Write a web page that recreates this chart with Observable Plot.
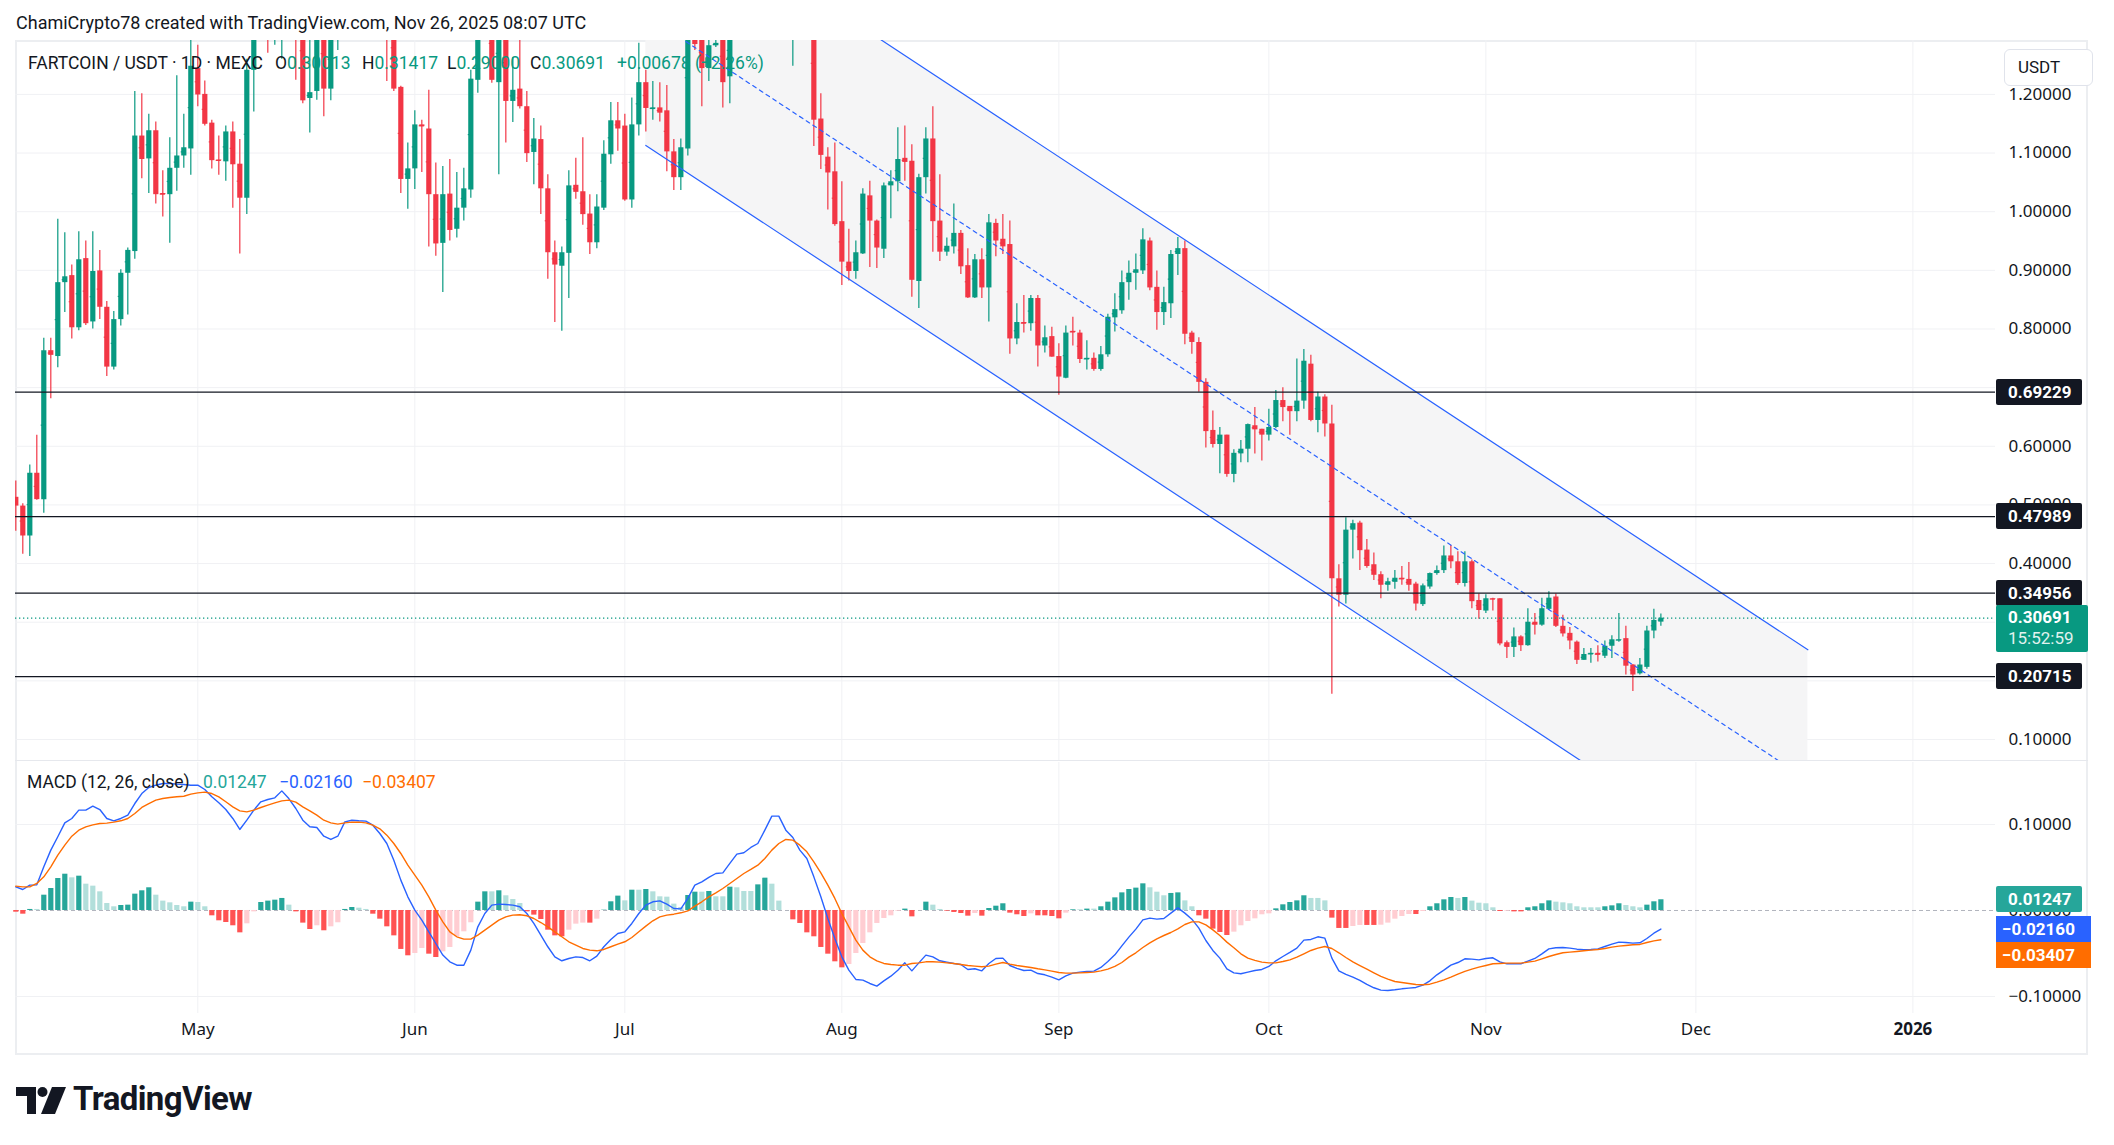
<!DOCTYPE html>
<html>
<head>
<meta charset="utf-8">
<script src="https://cdn.jsdelivr.net/npm/d3@7"></script>
<script src="https://cdn.jsdelivr.net/npm/@observablehq/plot@0.6"></script>
<style>
  body { margin: 0; background: #ffffff; }
  #root { position: relative; width: 2114px; height: 1145px; overflow: hidden; background: #fff;
          font-family: Roboto, "Liberation Sans", "Noto Sans", sans-serif; color: #131722; }
</style>
</head>
<body>
<div id="root"></div>
<script>
// ---------------- DATA ----------------
// Daily candles, FARTCOIN/USDT (MEXC), 2025-04-05 .. 2025-11-26
const firstDay = "2025-04-05";
const open = [
0.513,0.498,0.447,0.554,0.509,0.763,0.753,0.879,0.891,0.802,
0.920,0.812,0.899,0.837,0.735,0.816,0.895,0.932,1.129,1.090,
1.138,1.031,1.029,1.074,1.095,1.107,1.244,1.200,1.151,1.088,
1.085,1.136,1.081,1.023,1.241,1.350,1.420,1.380,1.440,1.460,
1.420,1.360,1.193,1.205,1.330,1.209,1.310,1.380,1.500,1.450,
1.420,1.400,1.380,1.450,1.350,1.212,1.055,1.073,1.148,1.141,
1.029,0.946,1.030,0.970,1.006,1.037,1.224,1.300,1.350,1.220,
1.320,1.188,1.209,1.179,1.101,1.123,1.039,0.930,0.907,0.929,
1.045,1.034,0.996,0.947,1.006,1.097,1.155,1.146,1.020,1.148,
1.220,1.175,1.177,1.172,1.102,1.058,1.107,1.350,1.300,1.244,
1.283,1.310,1.230,1.320,1.420,1.480,1.450,1.530,1.580,1.520,
1.400,1.330,1.380,1.400,1.350,1.158,1.093,1.068,0.983,0.914,
0.898,0.928,1.027,0.984,0.936,1.044,1.051,1.091,1.086,0.881,
1.058,1.124,0.984,0.931,0.940,0.963,0.908,0.853,0.918,0.870,
0.980,0.953,0.944,0.783,0.811,0.809,0.852,0.771,0.787,0.753,
0.716,0.796,0.793,0.748,0.750,0.731,0.756,0.819,0.831,0.879,
0.895,0.899,0.950,0.871,0.828,0.843,0.927,0.937,0.793,0.777,
0.709,0.627,0.603,0.619,0.552,0.587,0.595,0.635,0.629,0.619,
0.632,0.678,0.668,0.659,0.677,0.740,0.644,0.684,0.638,0.374,
0.346,0.457,0.469,0.423,0.398,0.381,0.363,0.368,0.375,0.373,
0.365,0.330,0.360,0.383,0.388,0.413,0.403,0.366,0.403,0.337,
0.319,0.340,0.340,0.265,0.257,0.275,0.260,0.300,0.295,0.322,
0.343,0.293,0.281,0.266,0.235,0.245,0.247,0.242,0.259,0.269,
0.272,0.227,0.212,0.223,0.285,0.30013];
const high = [
0.541,0.502,0.568,0.619,0.784,0.784,0.987,0.964,0.909,0.966,
0.950,0.966,0.934,0.847,0.830,0.901,0.938,1.205,1.201,1.166,
1.153,1.070,1.126,1.232,1.166,1.300,1.284,1.223,1.156,1.129,
1.146,1.153,1.123,1.260,1.400,1.480,1.500,1.520,1.500,1.520,
1.450,1.380,1.300,1.350,1.360,1.340,1.430,1.560,1.620,1.520,
1.480,1.450,1.500,1.500,1.380,1.214,1.117,1.172,1.156,1.207,
1.083,1.077,1.089,1.067,1.074,1.241,1.330,1.380,1.370,1.350,
1.330,1.263,1.300,1.205,1.159,1.146,1.063,0.950,0.940,1.070,
1.091,1.126,1.029,1.029,1.121,1.186,1.186,1.166,1.194,1.287,
1.241,1.222,1.220,1.215,1.123,1.124,1.400,1.450,1.310,1.300,
1.300,1.330,1.360,1.450,1.520,1.550,1.560,1.620,1.640,1.560,
1.450,1.420,1.450,1.440,1.400,1.201,1.109,1.117,1.051,0.970,
0.950,1.039,1.052,0.986,1.049,1.070,1.143,1.146,1.114,1.064,
1.143,1.179,1.063,0.955,1.013,0.968,0.937,0.927,0.937,0.995,
0.987,0.995,0.984,0.843,0.857,0.857,0.857,0.805,0.803,0.775,
0.805,0.820,0.798,0.780,0.759,0.770,0.825,0.860,0.899,0.916,
0.928,0.971,0.955,0.899,0.871,0.934,0.956,0.950,0.796,0.785,
0.715,0.660,0.632,0.619,0.594,0.610,0.638,0.666,0.629,0.663,
0.695,0.700,0.668,0.749,0.765,0.755,0.692,0.688,0.670,0.398,
0.478,0.474,0.472,0.441,0.418,0.386,0.375,0.388,0.395,0.402,
0.368,0.365,0.384,0.396,0.430,0.431,0.420,0.420,0.406,0.348,
0.347,0.341,0.340,0.268,0.290,0.277,0.323,0.315,0.341,0.352,
0.348,0.312,0.291,0.268,0.255,0.255,0.260,0.268,0.277,0.315,
0.293,0.228,0.238,0.293,0.322,0.31417];
const low = [
0.455,0.416,0.412,0.508,0.486,0.681,0.734,0.828,0.783,0.797,
0.806,0.800,0.816,0.719,0.730,0.805,0.824,0.919,1.056,1.031,
1.013,0.991,0.946,1.035,1.074,1.062,1.179,1.146,1.073,1.062,
1.052,1.006,0.928,0.995,1.170,1.310,1.270,1.284,1.260,1.330,
1.224,1.184,1.134,1.190,1.162,1.189,1.275,1.350,1.400,1.380,
1.330,1.320,1.330,1.222,1.205,1.031,1.004,1.038,1.067,0.940,
0.924,0.862,0.950,0.955,0.984,1.023,1.202,1.300,1.219,1.063,
1.117,1.152,1.175,1.084,1.046,0.995,0.885,0.811,0.796,0.852,
1.021,0.977,0.927,0.937,1.002,1.081,1.103,1.018,1.006,1.129,
1.136,1.156,1.153,1.068,1.036,1.036,1.095,1.275,1.179,1.222,
1.280,1.177,1.184,1.300,1.380,1.400,1.420,1.450,1.480,1.350,
1.300,1.248,1.330,1.320,1.111,1.072,1.003,0.975,0.874,0.882,
0.885,0.927,0.905,0.903,0.920,0.988,1.034,1.052,0.854,0.835,
1.030,0.931,0.915,0.924,0.928,0.893,0.852,0.852,0.852,0.812,
0.923,0.927,0.757,0.773,0.793,0.796,0.735,0.759,0.752,0.687,
0.715,0.771,0.741,0.730,0.728,0.728,0.752,0.795,0.825,0.849,
0.866,0.893,0.865,0.798,0.806,0.818,0.891,0.773,0.757,0.692,
0.597,0.597,0.553,0.547,0.538,0.572,0.572,0.587,0.575,0.609,
0.630,0.642,0.619,0.642,0.663,0.642,0.623,0.616,0.177,0.326,
0.331,0.408,0.388,0.392,0.371,0.340,0.353,0.356,0.363,0.353,
0.319,0.327,0.356,0.380,0.383,0.391,0.363,0.360,0.323,0.305,
0.315,0.319,0.260,0.238,0.240,0.250,0.259,0.278,0.293,0.320,
0.291,0.275,0.253,0.228,0.235,0.230,0.232,0.238,0.238,0.266,
0.210,0.182,0.210,0.220,0.272,0.293];
const close = [
0.498,0.447,0.554,0.509,0.763,0.755,0.879,0.889,0.802,0.918,
0.809,0.898,0.837,0.735,0.816,0.895,0.934,1.129,1.089,1.138,
1.029,1.029,1.074,1.095,1.109,1.248,1.199,1.149,1.087,1.087,
1.136,1.080,1.023,1.241,1.350,1.420,1.380,1.440,1.460,1.420,
1.360,1.189,1.203,1.320,1.209,1.310,1.380,1.500,1.450,1.420,
1.400,1.380,1.450,1.350,1.209,1.055,1.073,1.148,1.145,1.029,
0.945,1.029,0.968,1.006,1.039,1.226,1.300,1.340,1.224,1.320,
1.188,1.207,1.179,1.099,1.124,1.039,0.930,0.909,0.930,1.044,
1.033,0.995,0.947,1.008,1.098,1.155,1.141,1.020,1.148,1.220,
1.176,1.177,1.168,1.102,1.058,1.109,1.350,1.285,1.244,1.283,
1.287,1.220,1.320,1.420,1.480,1.450,1.530,1.580,1.520,1.400,
1.330,1.380,1.400,1.350,1.156,1.096,1.066,0.978,0.914,0.898,
0.930,1.030,0.984,0.938,1.044,1.051,1.089,1.084,0.883,1.058,
1.124,0.983,0.931,0.941,0.963,0.906,0.853,0.918,0.870,0.981,
0.950,0.940,0.783,0.811,0.809,0.852,0.771,0.785,0.752,0.718,
0.793,0.794,0.748,0.750,0.731,0.756,0.820,0.833,0.879,0.895,
0.901,0.952,0.870,0.828,0.845,0.927,0.937,0.791,0.777,0.709,
0.625,0.603,0.619,0.552,0.588,0.595,0.637,0.628,0.619,0.632,
0.678,0.666,0.659,0.677,0.745,0.644,0.684,0.638,0.374,0.346,
0.457,0.468,0.422,0.395,0.380,0.363,0.369,0.375,0.373,0.363,
0.331,0.362,0.383,0.388,0.413,0.403,0.366,0.403,0.335,0.320,
0.340,0.339,0.263,0.257,0.275,0.260,0.300,0.295,0.323,0.341,
0.293,0.280,0.268,0.235,0.245,0.247,0.244,0.259,0.270,0.270,
0.225,0.210,0.227,0.285,0.303,0.30691];

// MACD (12, 26, close): MACD line, signal line, histogram
const macd = [
0.0275,0.0244,0.0295,0.0298,0.0508,0.0702,0.0857,0.1019,0.1070,0.1167,
0.1167,0.1213,0.1174,0.1070,0.1043,0.1070,0.1109,0.1244,0.1360,0.1430,
0.1457,0.1477,0.1477,0.1469,0.1465,0.1457,0.1457,0.1407,0.1322,0.1252,
0.1174,0.1070,0.0942,0.1050,0.1167,0.1264,0.1291,0.1310,0.1391,0.1302,
0.1186,0.1050,0.0973,0.0965,0.0864,0.0826,0.0864,0.1031,0.1050,0.1043,
0.1039,0.0992,0.0895,0.0779,0.0585,0.0353,0.0159,0.0004,-0.0112,-0.0248,
-0.0384,-0.0519,-0.0597,-0.0636,-0.0636,-0.0461,-0.0190,-0.0035,0.0062,0.0074,
0.0070,0.0062,0.0043,-0.0035,-0.0151,-0.0287,-0.0422,-0.0539,-0.0585,-0.0558,
-0.0539,-0.0547,-0.0585,-0.0531,-0.0422,-0.0337,-0.0267,-0.0248,-0.0151,-0.0035,
0.0062,0.0101,0.0112,0.0074,0.0023,0.0019,0.0140,0.0295,0.0333,0.0384,
0.0430,0.0438,0.0547,0.0655,0.0671,0.0733,0.0779,0.0934,0.1097,0.1097,
0.0934,0.0849,0.0702,0.0605,0.0391,0.0159,-0.0093,-0.0326,-0.0539,-0.0694,
-0.0802,-0.0810,-0.0849,-0.0880,-0.0818,-0.0764,-0.0694,-0.0609,-0.0702,-0.0609,
-0.0519,-0.0539,-0.0585,-0.0601,-0.0616,-0.0628,-0.0686,-0.0678,-0.0702,-0.0616,
-0.0558,-0.0554,-0.0640,-0.0674,-0.0698,-0.0694,-0.0733,-0.0748,-0.0775,-0.0806,
-0.0760,-0.0729,-0.0717,-0.0709,-0.0705,-0.0663,-0.0593,-0.0516,-0.0411,-0.0310,
-0.0217,-0.0109,-0.0089,-0.0101,-0.0093,-0.0031,0.0031,-0.0031,-0.0101,-0.0205,
-0.0349,-0.0465,-0.0554,-0.0678,-0.0725,-0.0736,-0.0717,-0.0698,-0.0686,-0.0651,
-0.0585,-0.0535,-0.0488,-0.0438,-0.0345,-0.0337,-0.0306,-0.0322,-0.0554,-0.0702,
-0.0744,-0.0775,-0.0814,-0.0860,-0.0899,-0.0926,-0.0930,-0.0922,-0.0911,-0.0903,
-0.0895,-0.0868,-0.0818,-0.0748,-0.0694,-0.0636,-0.0605,-0.0562,-0.0566,-0.0574,
-0.0558,-0.0550,-0.0597,-0.0620,-0.0620,-0.0620,-0.0589,-0.0558,-0.0504,-0.0446,
-0.0434,-0.0430,-0.0438,-0.0450,-0.0457,-0.0453,-0.0446,-0.0419,-0.0391,-0.0368,
-0.0372,-0.0380,-0.0376,-0.0326,-0.0264,-0.02160];
const signal = [
0.0283,0.0275,0.0275,0.0314,0.0391,0.0508,0.0643,0.0760,0.0864,0.0934,
0.0973,0.0996,0.1012,0.1016,0.1027,0.1043,0.1070,0.1128,0.1198,0.1244,
0.1283,0.1302,0.1314,0.1322,0.1329,0.1353,0.1368,0.1376,0.1360,0.1322,
0.1264,0.1205,0.1159,0.1147,0.1167,0.1198,0.1225,0.1252,0.1275,0.1283,
0.1260,0.1205,0.1159,0.1109,0.1050,0.1019,0.1004,0.1019,0.1027,0.1027,
0.1019,0.0992,0.0950,0.0876,0.0779,0.0663,0.0527,0.0411,0.0295,0.0159,
0.0004,-0.0132,-0.0248,-0.0306,-0.0333,-0.0333,-0.0287,-0.0229,-0.0171,-0.0112,
-0.0074,-0.0054,-0.0050,-0.0062,-0.0093,-0.0140,-0.0190,-0.0248,-0.0306,-0.0364,
-0.0403,-0.0442,-0.0461,-0.0469,-0.0453,-0.0422,-0.0391,-0.0364,-0.0314,-0.0248,
-0.0182,-0.0120,-0.0074,-0.0054,-0.0043,-0.0027,-0.0004,0.0050,0.0101,0.0159,
0.0205,0.0256,0.0314,0.0372,0.0430,0.0477,0.0527,0.0605,0.0702,0.0779,
0.0826,0.0818,0.0760,0.0682,0.0566,0.0438,0.0295,0.0140,-0.0035,-0.0190,
-0.0345,-0.0461,-0.0539,-0.0585,-0.0616,-0.0628,-0.0636,-0.0636,-0.0616,-0.0609,
-0.0597,-0.0597,-0.0601,-0.0609,-0.0616,-0.0628,-0.0640,-0.0647,-0.0655,-0.0647,
-0.0624,-0.0605,-0.0624,-0.0640,-0.0651,-0.0663,-0.0678,-0.0690,-0.0705,-0.0721,
-0.0729,-0.0729,-0.0725,-0.0721,-0.0717,-0.0702,-0.0682,-0.0651,-0.0605,-0.0543,
-0.0492,-0.0430,-0.0376,-0.0329,-0.0291,-0.0256,-0.0213,-0.0163,-0.0132,-0.0132,
-0.0167,-0.0225,-0.0291,-0.0368,-0.0434,-0.0504,-0.0554,-0.0581,-0.0601,-0.0609,
-0.0609,-0.0593,-0.0574,-0.0543,-0.0504,-0.0465,-0.0438,-0.0419,-0.0442,-0.0492,
-0.0547,-0.0597,-0.0640,-0.0682,-0.0725,-0.0767,-0.0798,-0.0826,-0.0837,-0.0849,
-0.0860,-0.0864,-0.0857,-0.0833,-0.0806,-0.0775,-0.0740,-0.0709,-0.0682,-0.0659,
-0.0640,-0.0620,-0.0616,-0.0612,-0.0612,-0.0612,-0.0601,-0.0589,-0.0562,-0.0535,
-0.0512,-0.0492,-0.0484,-0.0477,-0.0469,-0.0461,-0.0453,-0.0442,-0.0426,-0.0415,
-0.0407,-0.0399,-0.0395,-0.0372,-0.0353,-0.03407];
const hist = [
-0.0020,-0.0043,0.0012,0.0012,0.0178,0.0256,0.0372,0.0422,0.0380,0.0399,
0.0306,0.0283,0.0217,0.0081,0.0043,0.0058,0.0062,0.0190,0.0229,0.0264,
0.0178,0.0109,0.0089,0.0058,0.0043,0.0097,0.0093,0.0043,-0.0062,-0.0120,
-0.0140,-0.0178,-0.0260,-0.0155,-0.0016,0.0093,0.0109,0.0120,0.0140,0.0062,
-0.0016,-0.0147,-0.0221,-0.0178,-0.0236,-0.0190,-0.0143,0.0012,0.0035,0.0027,
0.0012,-0.0043,-0.0101,-0.0190,-0.0295,-0.0453,-0.0527,-0.0500,-0.0442,-0.0508,
-0.0547,-0.0481,-0.0430,-0.0306,-0.0248,-0.0143,0.0097,0.0217,0.0217,0.0229,
0.0171,0.0128,0.0081,-0.0016,-0.0054,-0.0105,-0.0229,-0.0295,-0.0306,-0.0229,
-0.0159,-0.0147,-0.0147,-0.0101,0.0004,0.0101,0.0167,0.0112,0.0236,0.0236,
0.0244,0.0217,0.0159,0.0155,0.0074,0.0035,0.0174,0.0213,0.0213,0.0221,
0.0159,0.0159,0.0271,0.0264,0.0221,0.0221,0.0298,0.0376,0.0306,0.0109,
0.0000,-0.0109,-0.0151,-0.0260,-0.0306,-0.0430,-0.0508,-0.0597,-0.0667,-0.0628,
-0.0500,-0.0384,-0.0260,-0.0151,-0.0093,-0.0062,-0.0008,0.0016,-0.0074,0.0000,
0.0097,0.0062,0.0012,-0.0008,-0.0023,-0.0035,-0.0066,-0.0035,-0.0066,0.0023,
0.0050,0.0078,-0.0031,-0.0050,-0.0070,-0.0039,-0.0062,-0.0062,-0.0070,-0.0097,
-0.0031,0.0008,0.0008,0.0016,0.0016,0.0043,0.0097,0.0147,0.0205,0.0244,
0.0260,0.0310,0.0264,0.0213,0.0171,0.0198,0.0205,0.0112,0.0043,-0.0062,
-0.0101,-0.0217,-0.0256,-0.0291,-0.0252,-0.0178,-0.0128,-0.0097,-0.0050,-0.0039,
0.0019,0.0066,0.0093,0.0112,0.0171,0.0140,0.0140,0.0112,-0.0089,-0.0209,
-0.0209,-0.0186,-0.0174,-0.0174,-0.0174,-0.0171,-0.0147,-0.0101,-0.0070,-0.0047,
-0.0047,-0.0012,0.0043,0.0078,0.0124,0.0151,0.0140,0.0151,0.0109,0.0085,
0.0078,0.0031,-0.0012,-0.0008,-0.0016,-0.0016,0.0031,0.0043,0.0078,0.0112,
0.0097,0.0089,0.0078,0.0043,0.0031,0.0031,0.0031,0.0043,0.0054,0.0078,
0.0058,0.0043,0.0031,0.0062,0.0101,0.01247];

// Horizontal levels drawn on the chart, price ticks, MACD ticks, month ticks
const levels = [0.69229, 0.47989, 0.34956, 0.20715];
const priceTicks = [0.1, 0.2, 0.3, 0.4, 0.5, 0.6, 0.7, 0.8, 0.9, 1.0, 1.1, 1.2];
const priceTickLabels = [0.1, 0.4, 0.5, 0.6, 0.8, 0.9, 1.0, 1.1, 1.2];   // labels not hidden by value boxes
const macdTicks = [0.1, 0, -0.1];
const monthTickDates = ["2025-05-01","2025-06-01","2025-07-01","2025-08-01","2025-09-01","2025-10-01","2025-11-01","2025-12-01","2026-01-01"];
const monthTickLabels = ["May","Jun","Jul","Aug","Sep","Oct","Nov","Dec","2026"];

// Descending parallel channel (anchor dates and prices)
const channelDates = ["2025-07-04", "2025-12-17"];
const channelUpper = [1.557, 0.253];
const channelMid   = [1.335, 0.031];
const channelLower = [1.113, -0.191];

// Legend / last values
const lastOHLC = {O: "0.30013", H: "0.31417", L: "0.29000", C: "0.30691"};
const lastChange = "+0.00678 (+2.26%)";
const countdown = "15:52:59";
const macdLast = {hist: 0.01247, macd: -0.02160, signal: -0.03407};

// ---------------- BUILD ----------------
[open, high, low, close, macd, signal, hist].forEach((a, k) => {
  if (a.length !== 236) throw new Error("array " + k + " has length " + a.length);
});

const DAY = 864e5;
const t0 = new Date(firstDay + "T00:00:00Z").getTime();
const dates = open.map((_, i) => new Date(t0 + i * DAY));
const UP = "#089981", DOWN = "#f23645";
const candles = dates.map((d, i) => ({
  date: d, open: open[i], high: high[i], low: low[i], close: close[i],
  color: close[i] >= open[i] ? UP : DOWN
}));
const macdRows = dates.map((d, i) => {
  const h = hist[i], p = i ? hist[i - 1] : h;
  const color = h >= 0 ? (p < h || i === 0 ? "#26a69a" : "#b2dfdb") : (p < h ? "#ffcdd2" : "#ff5252");
  return {date: d, macd: macd[i], signal: signal[i], hist: h, color};
});
const monthTicks = monthTickDates.map(s => new Date(s + "T00:00:00Z"));
const monthLabelRows = monthTicks.map((d, i) => ({date: d, label: monthTickLabels[i], year: d.getUTCMonth() === 0}));
const channel = channelDates.map((s, i) => ({date: new Date(s + "T00:00:00Z"), upper: channelUpper[i], mid: channelMid[i], lower: channelLower[i]}));

const W = 2114;
const LEFT = 15, RIGHT = 1995;
const xDomain = [new Date(t0 - 0.043 * DAY), new Date(t0 + 282.8 * DAY)];
const GRID = "#f0f1f4";
const FONT = 'Roboto, "Liberation Sans", sans-serif';
const fmt5 = d3.format(".5f");
const fmtSigned = v => (v < 0 ? "\u2212" : "") + fmt5(Math.abs(v));

const priceTop = 40, priceH = 721;
const priceChart = Plot.plot({
  width: W, height: priceH,
  marginLeft: LEFT, marginRight: W - RIGHT, marginTop: 0, marginBottom: 0,
  x: {type: "utc", domain: xDomain, axis: null},
  y: {domain: [0.0625, 1.2919], axis: null},
  color: {type: "identity"},
  style: {fontFamily: FONT, fontSize: "17px", color: "#131722", background: "transparent", overflow: "visible"},
  marks: [
    Plot.ruleY(priceTicks, {stroke: GRID, strokeWidth: 1}),
    Plot.ruleX(monthTicks, {stroke: GRID, strokeWidth: 1}),
    Plot.areaY(channel, {x: "date", y1: "lower", y2: "upper", fill: "#f5f5f6", clip: true, curve: "linear"}),
    Plot.ruleX(candles, {x: "date", y1: "low", y2: "high", stroke: d => d.color, strokeWidth: 1.2, clip: true}),
    Plot.ruleX(candles, {x: "date", y1: "open", y2: "close", stroke: d => d.color, strokeWidth: 5.2, clip: true}),
    Plot.ruleY(candles, {x1: d => new Date(+d.date - 0.37 * DAY), x2: d => new Date(+d.date + 0.37 * DAY),
                         y: d => (d.open + d.close) / 2, stroke: d => d.color, strokeWidth: 1.2, clip: true}),
    Plot.line(channel, {x: "date", y: "upper", stroke: "#2962ff", strokeWidth: 1.2, clip: true}),
    Plot.line(channel, {x: "date", y: "lower", stroke: "#2962ff", strokeWidth: 1.2, clip: true}),
    Plot.line(channel, {x: "date", y: "mid", stroke: "#2962ff", strokeWidth: 1.2, strokeDasharray: "4,4", clip: true}),
    Plot.ruleY(levels, {stroke: "#131722", strokeWidth: 1.3}),
    Plot.ruleY([close[close.length - 1]], {stroke: UP, strokeWidth: 1.2, strokeDasharray: "1.3,2.7"}),
    Plot.axisY(priceTickLabels, {anchor: "right", tickSize: 0, tickPadding: 13, tickFormat: fmt5, label: null, fontSize: 17, fill: "#131722"})
  ]
});

const macdTop = 762, macdH = 292;
const macdChart = Plot.plot({
  width: W, height: macdH,
  marginLeft: LEFT, marginRight: W - RIGHT, marginTop: 0, marginBottom: 41,
  x: {type: "utc", domain: xDomain, axis: null},
  y: {domain: [-0.1198, 0.1721], axis: null},
  color: {type: "identity"},
  style: {fontFamily: FONT, fontSize: "17px", color: "#131722", background: "transparent", overflow: "visible"},
  marks: [
    Plot.ruleY(macdTicks.filter(v => v !== 0), {stroke: GRID}),
    Plot.ruleX(monthTicks, {stroke: GRID}),
    Plot.ruleY([0], {stroke: "#b2b5be", strokeWidth: 1, strokeDasharray: "4,3"}),
    Plot.ruleX(macdRows, {x: "date", y1: 0, y2: "hist", stroke: d => d.color, strokeWidth: 5.2}),
    Plot.line(macdRows, {x: "date", y: "macd", stroke: "#2962ff", strokeWidth: 1.4}),
    Plot.line(macdRows, {x: "date", y: "signal", stroke: "#ff6d00", strokeWidth: 1.4}),
    Plot.axisY(macdTicks, {anchor: "right", tickSize: 0, tickPadding: 13, tickFormat: fmtSigned, label: null, fontSize: 17, fill: "#131722"}),
    Plot.text(monthLabelRows.filter(d => !d.year), {x: "date", frameAnchor: "bottom", dy: 21, text: "label", fontSize: 17, fill: "#131722"}),
    Plot.text(monthLabelRows.filter(d => d.year), {x: "date", frameAnchor: "bottom", dy: 21, text: "label", fontSize: 17, fontWeight: "bold", fill: "#131722"})
  ]
});

// ---------------- PAGE ----------------
const root = document.getElementById("root");
function el(tag, css, text) {
  const e = document.createElement(tag);
  e.style.cssText = css;
  if (text != null) e.textContent = text;
  root.appendChild(e);
  return e;
}

// frame
el("div", "position:absolute;left:15px;top:40px;width:2073px;height:1015px;box-sizing:border-box;border:2px solid #eceef1;");
priceChart.style.cssText = `position:absolute;left:0;top:${priceTop}px;`;
macdChart.style.cssText = `position:absolute;left:0;top:${macdTop}px;`;
root.appendChild(priceChart);
root.appendChild(macdChart);
el("div", "position:absolute;left:15px;top:760px;width:2073px;height:1px;background:#e6e8ed;");

// header
el("div", "position:absolute;left:16px;top:12px;font-size:18px;line-height:22px;white-space:pre;color:#131722;",
   "ChamiCrypto78 created with TradingView.com, Nov 26, 2025 08:07 UTC");
const legendTop = 53;
el("div", `position:absolute;left:28px;top:${legendTop}px;font-size:17.5px;line-height:20px;white-space:pre;color:#131722;`,
   "FARTCOIN / USDT \u00b7 1D \u00b7 MEXC");
function ohlc(letter, val, x) {
  const d = el("div", `position:absolute;left:${x}px;top:${legendTop}px;font-size:17.5px;line-height:20px;white-space:pre;color:#131722;`);
  d.innerHTML = `${letter}<span style="color:${UP}">${val}</span>`;
}
ohlc("O", lastOHLC.O, 275);
ohlc("H", lastOHLC.H, 362);
ohlc("L", lastOHLC.L, 447);
ohlc("C", lastOHLC.C, 530);
el("div", `position:absolute;left:617px;top:${legendTop}px;font-size:17.5px;line-height:20px;white-space:pre;color:${UP};`, lastChange);

// MACD legend
const mlTop = 772;
el("div", `position:absolute;left:27px;top:${mlTop}px;font-size:17.5px;line-height:20px;white-space:pre;color:#131722;`, "MACD (12, 26, close)");
el("div", `position:absolute;left:203px;top:${mlTop}px;font-size:17.5px;line-height:20px;white-space:pre;color:#26a69a;`, fmt5(macdLast.hist));
el("div", `position:absolute;left:279px;top:${mlTop}px;font-size:17.5px;line-height:20px;white-space:pre;color:#2962ff;`, fmtSigned(macdLast.macd));
el("div", `position:absolute;left:362px;top:${mlTop}px;font-size:17.5px;line-height:20px;white-space:pre;color:#ff6d00;`, fmtSigned(macdLast.signal));

// USDT currency box
el("div", "position:absolute;left:2004px;top:49px;width:89px;height:37px;box-sizing:border-box;border:1px solid #e0e3eb;border-radius:6px;background:#fff;font-size:17px;line-height:35px;padding-left:13px;color:#131722;", "USDT");

// price-axis labels for levels
const py = v => priceTop + priceChart.scale("y").apply(v);
const my = v => macdTop + macdChart.scale("y").apply(v);
const BOX_L = 1996;
levels.forEach(v => {
  el("div", `position:absolute;left:${BOX_L}px;top:${py(v) - 13}px;width:86px;height:26px;box-sizing:border-box;background:#131722;border-radius:2px;color:#fff;font-weight:700;font-size:17px;line-height:26px;padding-left:12px;`, fmt5(v));
});
// last price box
const lastClose = close[close.length - 1];
const lp = el("div", `position:absolute;left:${BOX_L}px;top:${py(lastClose) - 13}px;width:92px;height:47px;box-sizing:border-box;background:${UP};border-radius:2px;color:#fff;font-size:17px;line-height:21px;padding:2px 0 0 12px;`);
lp.innerHTML = `<div style="font-weight:700">${fmt5(lastClose)}</div><div style="opacity:0.88">${countdown}</div>`;

// MACD last-value boxes
const hTop = my(macdLast.hist) - 13;
el("div", `position:absolute;left:${BOX_L}px;top:${hTop}px;width:86px;height:26px;box-sizing:border-box;background:#26a69a;border-radius:2px;color:#fff;font-weight:700;font-size:17px;line-height:26px;padding-left:12px;`, fmt5(macdLast.hist));
const bTop = my(macdLast.macd) - 13;
el("div", `position:absolute;left:${BOX_L}px;top:${bTop}px;width:95px;height:26px;box-sizing:border-box;background:#2962ff;color:#fff;font-weight:700;font-size:17px;line-height:26px;padding-left:6px;`, fmtSigned(macdLast.macd));
const oTop = Math.max(my(macdLast.signal) - 13, bTop + 26);
el("div", `position:absolute;left:${BOX_L}px;top:${oTop}px;width:95px;height:26px;box-sizing:border-box;background:#ff6d00;color:#fff;font-weight:700;font-size:17px;line-height:26px;padding-left:6px;`, fmtSigned(macdLast.signal));

// TradingView logo
const logo = document.createElementNS("http://www.w3.org/2000/svg", "svg");
logo.setAttribute("width", "52"); logo.setAttribute("height", "32");
logo.style.cssText = "position:absolute;left:15px;top:1086px;";
logo.innerHTML = '<path d="M1 1 H21 V28 H12 V10 H1 Z" fill="#131722"/><circle cx="27.5" cy="6" r="5" fill="#131722"/><path d="M37 1 H51 L40 28 H26 Z" fill="#131722"/>';
root.appendChild(logo);
el("div", "position:absolute;left:73px;top:1080px;font-size:33px;line-height:38px;font-weight:700;letter-spacing:-0.6px;color:#131722;white-space:pre;", "TradingView");
</script>
</body>
</html>
